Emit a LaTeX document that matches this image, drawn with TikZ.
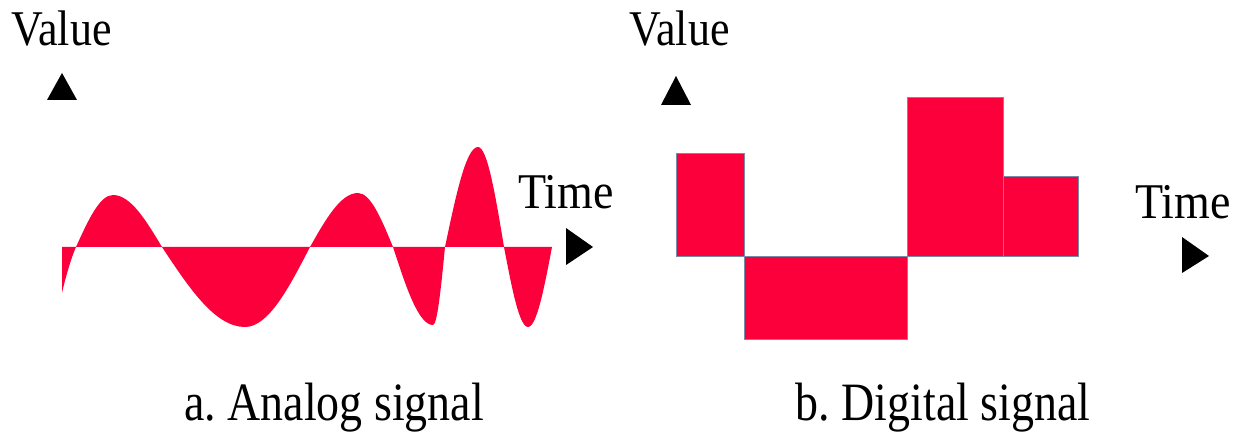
\documentclass[tikz,border=0pt]{standalone}
\usepackage{graphicx}
\usepackage{fontspec}
\setmainfont{Liberation Serif}
\usepackage{xcolor}
\definecolor{signalred}{RGB}{252, 0, 60}
\definecolor{edgeblue}{RGB}{120, 140, 170}
\usepackage{tikz}
\usetikzlibrary{positioning}

\begin{document}
\begin{tikzpicture}[
    x=0.5pt, y=-0.5pt,
    axislabel/.style={
        inner sep=0pt, anchor=base west, font=\fontsize{25}{25}\selectfont
    },
    caption/.style={
        inner sep=0pt, anchor=base, font=\fontsize{27}{27}\selectfont
    },
    marker/.style={
        fill=black
    },
    wave/.style={
        fill=signalred
    },
    level/.style={
        fill=signalred, draw=edgeblue, line width=0.3pt
    }
]
\useasboundingbox (0,0) rectangle (1241,432);

% Analog signal (Left)
\node[axislabel] (avalue) at (11,46) {\scalebox{0.88}[1]{Value}};
\fill[marker] (47,100) -- (62,73) -- (77,100) -- cycle;
\node[axislabel] (atime) at (518,209) {\scalebox{0.92}[1]{Time}};
\fill[marker] (566,228) -- (593,247) -- (566,265) -- cycle;

\fill[wave] (62,293) .. controls (66,275) and (72,256) .. (76,247)
    .. controls (88.1,220.4) and (99.6,195) .. (113,195)
    .. controls (130.7,195) and (146,220.4) .. (162,247)
    .. controls (189.1,288) and (215,327) .. (245,327)
    .. controls (268.5,327) and (288.8,288) .. (310,247)
    .. controls (325.6,219.4) and (340.6,193) .. (358,193)
    .. controls (370.7,193) and (381.6,219.4) .. (393,247)
    .. controls (406,287) and (418.5,325) .. (433,325)
    .. controls (437.3,325) and (441.1,287) .. (445,247)
    .. controls (455.8,195.8) and (466,147) .. (478,147)
    .. controls (487.4,147) and (495.5,195.8) .. (504,247)
    .. controls (511.8,288) and (519.3,327) .. (528,327)
    .. controls (536.7,327) and (544.2,288) .. (552,247)
    -- (62,247) -- cycle;

\node[caption] (acap) at (334,420) {\scalebox{0.85}[1]{a.\ Analog signal}};

% Digital signal (Right)
\node[axislabel] (dvalue) at (629,46) {\scalebox{0.88}[1]{Value}};
\fill[marker] (661,105) -- (676,76) -- (691,105) -- cycle;
\node[axislabel] (dtime) at (1135,219) {\scalebox{0.92}[1]{Time}};
\fill[marker] (1182,237) -- (1209,256) -- (1182,273) -- cycle;

\draw[level] (676,153) rectangle (744,256);
\draw[level] (744,256) rectangle (907,339);
\draw[level] (907,97) rectangle (1003,256);
\draw[level] (1003,176) rectangle (1078,256);
\fill[signalred] (908,177) rectangle (1002,255);

\node[caption] (dcap) at (943,420) {\scalebox{0.85}[1]{b.\ Digital signal}};

\end{tikzpicture}
\end{document}
